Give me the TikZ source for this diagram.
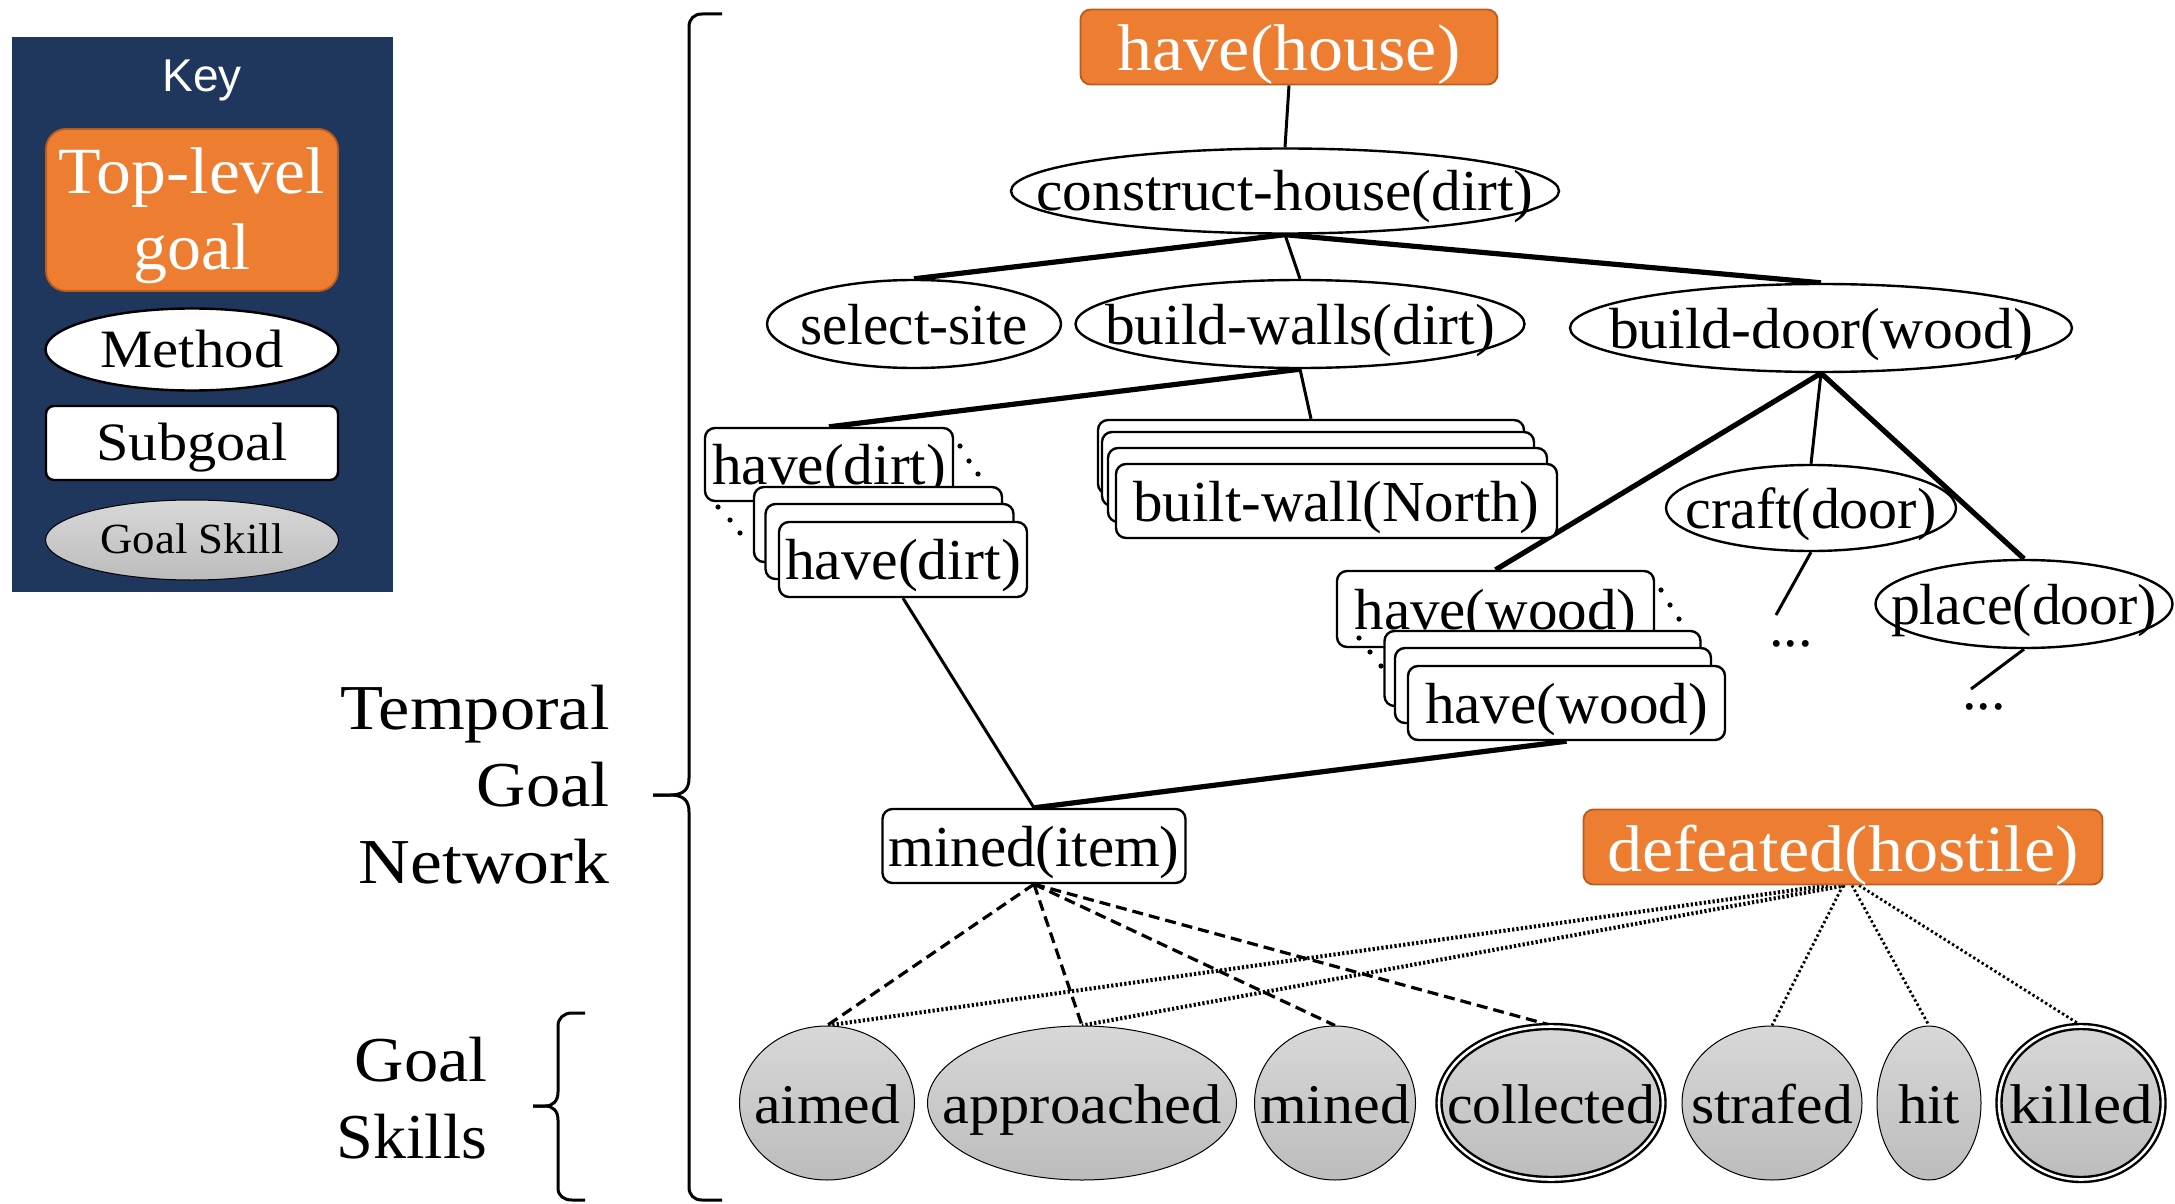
\documentclass[tikz,border=0pt]{standalone}
\usepackage{fontspec}
\setmainfont{Liberation Serif}
\setsansfont{Liberation Sans}
\usepackage{graphicx}
\usetikzlibrary{shapes.geometric}
\pgfdeclarelayer{bg}
\pgfsetlayers{bg,main}
\definecolor{navy}{RGB}{31,54,93}
\definecolor{orng}{RGB}{237,125,49}
\definecolor{orngdk}{RGB}{184,92,32}
\definecolor{sktop}{RGB}{216,216,216}
\definecolor{skbot}{RGB}{188,188,188}
\newcommand\ct[2]{\makebox[0pt]{\resizebox{#1}{\height}{#2}}}
\begin{document}
\begin{tikzpicture}[x=0.5pt,y=-0.5pt,
  goalbox/.style={rectangle, rounded corners=5pt, fill=orng, draw=orngdk, line width=0.9pt, text=white, inner sep=0pt, font=\fontsize{33}{38}\selectfont, text height=24pt, text depth=0pt},
  meth/.style={ellipse, draw=black, fill=white, line width=1.2pt, inner sep=0pt, font=\fontsize{29}{34}\selectfont, text height=20pt, text depth=0pt},
  subbox/.style={rectangle, rounded corners=5pt, draw=black, fill=white, line width=1.2pt, inner sep=0pt, font=\fontsize{29}{34}\selectfont, text height=20pt, text depth=0pt},
  skill/.style={ellipse, draw=black, line width=0.5pt, top color=sktop, bottom color=skbot, inner sep=0pt, font=\fontsize{28}{33}\selectfont, text height=20pt, text depth=0pt},
  dskill/.style={skill, line width=1.2pt, double=white, double distance=1.3pt},
  thinln/.style={line width=1.5pt},
  thickln/.style={line width=2.6pt},
  dashln/.style={line width=1.6pt, dash pattern=on 5.5pt off 3pt},
  dotln/.style={line width=1.4pt, dash pattern=on 1.2pt off 1.3pt},
  dotthk/.style={line width=2pt, dash pattern=on 1.1pt off 1.1pt},
  bracepath/.style={line width=1.5pt},
  lbl/.style={font=\fontsize{32}{38}\selectfont, anchor=base east, inner sep=0pt}
]
\useasboundingbox (0,0) rectangle (2175,1204);

% ---------- Key ----------
\node[fill=navy, minimum width=190.5pt, minimum height=277.5pt, inner sep=0pt] (key) at (202.5,314.5) {};
\node[font=\sffamily\fontsize{23}{27}\selectfont, text=white, anchor=base, inner sep=0pt] (keyt) at (202,92) {Key};
\node[goalbox, rounded corners=10pt, minimum width=146pt, minimum height=81pt] (ktl) at (192,210) {};
\node[text=white, font=\fontsize{33}{38}\selectfont, anchor=base, inner sep=0pt] (ktla) at (192,194) {\ct{133pt}{Top-level}};
\node[text=white, font=\fontsize{33}{38}\selectfont, anchor=base, inner sep=0pt] (ktlb) at (192,270) {\ct{58.5pt}{goal}};
\node[meth, minimum width=146.5pt, minimum height=41pt, font=\fontsize{27}{32}\selectfont, text height=17.5pt] (kme) at (192,349.5) {\ct{91.5pt}{Method}};
\node[subbox, rounded corners=4pt, minimum width=146pt, minimum height=37pt, font=\fontsize{27}{32}\selectfont, text height=17pt] (ksu) at (192,443) {\ct{95.5pt}{Subgoal}};
\node[skill, minimum width=146.5pt, minimum height=40pt, font=\fontsize{21.5}{26}\selectfont, text height=13pt] (kgs) at (192,540) {\ct{91.5pt}{Goal Skill}};

% ---------- side labels ----------
\node[lbl] (tg1) at (610,729) {\resizebox{134.5pt}{\height}{Temporal}};
\node[lbl] (tg2) at (610,806) {\resizebox{66.5pt}{\height}{Goal}};
\node[lbl] (tg3) at (610,883) {\resizebox{125.5pt}{\height}{Network}};
\node[lbl] (gs1) at (488,1081) {\resizebox{66.5pt}{\height}{Goal}};
\node[lbl] (gs2) at (488,1158) {\resizebox{75.5pt}{\height}{Skills}};

\draw[bracepath] (722,14) -- (702,14) .. controls (694,14) and (689,19) .. (689,27) -- (689,778) .. controls (689,789) and (684,795) .. (670,795) -- (653,795);
\draw[bracepath] (653,795) -- (670,795) .. controls (684,795) and (689,801) .. (689,812) -- (689,1187) .. controls (689,1195) and (694,1200) .. (702,1200) -- (722,1200);
\draw[bracepath] (585,1013) -- (572,1013) .. controls (564,1013) and (558,1018) .. (558,1026) -- (558,1092) .. controls (558,1101) and (553,1106) .. (545,1106) -- (533,1106);
\draw[bracepath] (533,1106) -- (545,1106) .. controls (553,1106) and (558,1111) .. (558,1120) -- (558,1188) .. controls (558,1196) and (564,1200) .. (572,1200) -- (585,1200);

% ---------- network ----------
\node[goalbox, minimum width=208.5pt, minimum height=37.5pt] (hh) at (1289,47) {\ct{171.5pt}{have(house)}};
\node[meth, minimum width=274pt, minimum height=42.5pt] (ch) at (1285,191) {\ct{248.5pt}{construct-house(dirt)}};
\node[meth, minimum width=147pt, minimum height=44pt] (ss) at (914,324) {\ct{113.5pt}{select-site}};
\node[meth, minimum width=224.5pt, minimum height=44pt] (bw) at (1300,324) {\ct{195pt}{build-walls(dirt)}};
\node[meth, minimum width=251pt, minimum height=44pt] (bd) at (1821,328) {\ct{212pt}{build-door(wood)}};

\node[subbox, minimum width=124pt, minimum height=36.5pt] (hd1) at (829,464.5) {\ct{117pt}{have(dirt)}};
\node[subbox, minimum width=124pt, minimum height=37.5pt] (hdA) at (878,524.5) {};
\node[subbox, minimum width=124pt, minimum height=37.5pt] (hdB) at (889.5,541.5) {};
\node[subbox, minimum width=124pt, minimum height=37.5pt] (hdF) at (903,559.5) {\ct{118pt}{have(dirt)}};

\node[subbox, minimum width=213pt, minimum height=37pt] (bwA) at (1311,457) {};
\node[subbox, minimum width=216pt, minimum height=37pt] (bwB) at (1318,469) {};
\node[subbox, minimum width=219.5pt, minimum height=37pt] (bwC) at (1327.5,485) {};
\node[subbox, minimum width=220.5pt, minimum height=37pt] (bwF) at (1336.5,501) {\ct{203pt}{built-wall(North)}};

\node[meth, minimum width=145pt, minimum height=43pt] (cd) at (1811,508) {\ct{125.5pt}{craft(door)}};
\node[meth, minimum width=148.5pt, minimum height=44pt] (pd) at (2024,604) {\ct{133pt}{place(door)}};

\node[subbox, minimum width=158.5pt, minimum height=38pt] (hw1) at (1495.5,609) {\ct{141pt}{have(wood)}};
\node[subbox, minimum width=158pt, minimum height=37.5pt] (hwA) at (1542.5,668.5) {};
\node[subbox, minimum width=158pt, minimum height=37.5pt] (hwB) at (1553,685.5) {};
\node[subbox, minimum width=158.5pt, minimum height=37pt] (hwF) at (1566.5,703) {\ct{141.5pt}{have(wood)}};

\node[font=\fontsize{29}{34}\selectfont, anchor=base, inner sep=0pt] (el1) at (1791,646) {...};
\node[font=\fontsize{29}{34}\selectfont, anchor=base, inner sep=0pt] (el2) at (1984,709) {...};
\coordinate (cdend) at (1776,615);
\coordinate (pdend) at (1971,689);

\node[subbox, minimum width=151.5pt, minimum height=37pt] (mi) at (1034,846) {\ct{145.5pt}{mined(item)}};
\node[goalbox, minimum width=259.5pt, minimum height=37.5pt] (df) at (1843,847) {\ct{236pt}{defeated(hostile)}};

\node[skill, minimum width=87.5pt, minimum height=77pt] (sa) at (827,1103) {\ct{73pt}{aimed}};
\node[skill, minimum width=154.5pt, minimum height=77pt] (sp) at (1082,1103) {\ct{139.5pt}{approached}};
\node[skill, minimum width=80.5pt, minimum height=77pt] (sm) at (1335,1103) {\ct{75pt}{mined}};
\node[dskill, minimum width=112pt, minimum height=76.5pt] (sc) at (1551,1103) {\ct{104pt}{collected}};
\node[skill, minimum width=90pt, minimum height=77pt] (sf) at (1772,1103) {\ct{81pt}{strafed}};
\node[skill, minimum width=52pt, minimum height=77pt] (sh) at (1929,1103) {\ct{31pt}{hit}};
\node[dskill, minimum width=82pt, minimum height=76.5pt] (sk) at (2081,1103) {\ct{72pt}{killed}};

% ellipsis dots between stacked subgoals
\fill (960,446) circle (1.3pt) (969,461) circle (1.3pt) (978,474) circle (1.3pt);
\fill (718,507) circle (1.3pt) (730,520) circle (1.3pt) (740,533) circle (1.3pt);
\fill (1661,590) circle (1.3pt) (1670,605) circle (1.3pt) (1679,619) circle (1.3pt);
\fill (1359,638) circle (1.3pt) (1370,652) circle (1.3pt) (1381,666) circle (1.3pt);

\begin{pgfonlayer}{bg}
\draw[thinln] (hh.south) -- (ch.north);
\draw[thickln] (ch.south) -- (ss.north);
\draw[thinln] (ch.south) -- (bw.north);
\draw[thickln] (ch.south) -- (bd.north);
\draw[thickln] (bw.south) -- (hd1.north);
\draw[thinln] (bw.south) -- (bwA.north);
\draw[thickln] (bd.south) -- (hw1.north);
\draw[thinln] (bd.south) -- (cd.north);
\draw[thickln] (bd.south) -- (pd.north);
\draw[thinln] (cd.south) -- (cdend);
\draw[thinln] (pd.south) -- (pdend);
\draw[thinln] (hdF.south) -- (mi.north);
\draw[thickln] (hwF.south) -- (mi.north);
\draw[dashln] (mi.south) -- (sa.north);
\draw[dashln] (mi.south) -- (sp.north);
\draw[dashln] (mi.south) -- (sm.north);
\draw[dashln] (mi.south) -- (sc.north);
\draw[dotthk] ([xshift=-7.5pt]df.south) -- (sa.north);
\draw[dotthk] ([xshift=1pt]df.south) -- (sp.north);
\draw[dotln] (df.south) -- (sf.north);
\draw[dotln] ([xshift=4.5pt]df.south) -- (sh.north);
\draw[dotln] ([xshift=8pt]df.south) -- (sk.north);
\end{pgfonlayer}
\end{tikzpicture}
\end{document}
